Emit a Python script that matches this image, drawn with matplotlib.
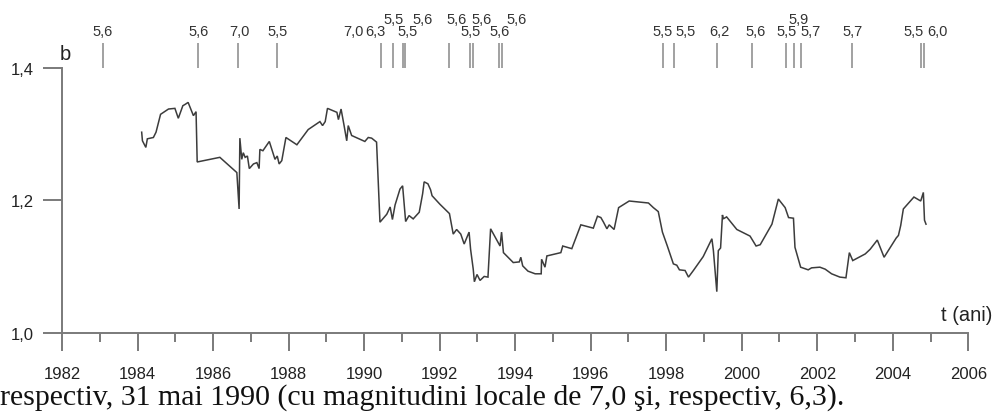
import matplotlib
matplotlib.use("Agg")
import matplotlib.pyplot as plt
from matplotlib.ticker import MultipleLocator, FixedLocator

# ---- data: b-value time series ----
t_years = [1984.11, 1984.13, 1984.22, 1984.26, 1984.42, 1984.49, 1984.61, 1984.82, 1984.99,
           1985.08, 1985.20, 1985.26, 1985.34, 1985.48, 1985.55, 1985.58, 1986.18, 1986.63,
           1986.69, 1986.71, 1986.76, 1986.80, 1986.85, 1986.91, 1986.96, 1987.07, 1987.16,
           1987.22, 1987.24, 1987.32, 1987.49, 1987.64, 1987.70, 1987.75, 1987.82, 1987.93,
           1988.22, 1988.52, 1988.83, 1988.90, 1988.97, 1989.03, 1989.28, 1989.32, 1989.39,
           1989.47, 1989.54, 1989.58, 1989.67, 1990.02, 1990.11, 1990.20, 1990.33, 1990.42,
           1990.60, 1990.69, 1990.75, 1990.82, 1990.95, 1991.02, 1991.10, 1991.19, 1991.30,
           1991.46, 1991.55, 1991.59, 1991.69, 1991.76, 1991.80, 1992.01, 1992.26, 1992.36,
           1992.45, 1992.56, 1992.65, 1992.78, 1992.82, 1992.89, 1992.92, 1992.99, 1993.07,
           1993.18, 1993.28, 1993.35, 1993.60, 1993.64, 1993.69, 1993.95, 1994.11, 1994.15,
           1994.20, 1994.34, 1994.53, 1994.69, 1994.70, 1994.79, 1994.84, 1995.21, 1995.26,
           1995.50, 1995.74, 1996.07, 1996.18, 1996.27, 1996.34, 1996.43, 1996.49, 1996.62,
           1996.74, 1997.02, 1997.53, 1997.66, 1997.79, 1997.90, 1998.03, 1998.19, 1998.28,
           1998.35, 1998.50, 1998.59, 1998.72, 1998.98, 1999.21, 1999.25, 1999.34, 1999.38,
           1999.44, 1999.49, 1999.51, 1999.60, 1999.87, 2000.22, 2000.38, 2000.49, 2000.80,
           2000.97, 2001.15, 2001.24, 2001.37, 2001.41, 2001.56, 2001.76, 2001.85, 2002.07,
           2002.21, 2002.38, 2002.60, 2002.76, 2002.85, 2002.94, 2003.27, 2003.40, 2003.59,
           2003.77, 2004.09, 2004.15, 2004.21, 2004.28, 2004.56, 2004.74, 2004.81, 2004.84,
           2004.88]
b_values = [1.303, 1.290, 1.280, 1.293, 1.295, 1.303, 1.330, 1.338, 1.339,
            1.324, 1.343, 1.345, 1.348, 1.328, 1.334, 1.258, 1.265, 1.242,
            1.187, 1.294, 1.262, 1.272, 1.265, 1.267, 1.248, 1.255, 1.257,
            1.248, 1.277, 1.275, 1.289, 1.262, 1.267, 1.255, 1.260, 1.295,
            1.284, 1.307, 1.319, 1.313, 1.319, 1.339, 1.333, 1.322, 1.338,
            1.313, 1.290, 1.313, 1.298, 1.289, 1.295, 1.294, 1.288, 1.167,
            1.179, 1.190, 1.171, 1.193, 1.217, 1.222, 1.168, 1.177, 1.172,
            1.182, 1.210, 1.228, 1.225, 1.216, 1.207, 1.194, 1.180, 1.149,
            1.156, 1.149, 1.134, 1.152, 1.126, 1.096, 1.077, 1.088, 1.079,
            1.085, 1.084, 1.157, 1.131, 1.152, 1.121, 1.106, 1.107, 1.114,
            1.101, 1.093, 1.089, 1.089, 1.111, 1.099, 1.116, 1.121, 1.131,
            1.127, 1.163, 1.158, 1.176, 1.174, 1.167, 1.157, 1.163, 1.156,
            1.189, 1.199, 1.196, 1.189, 1.183, 1.152, 1.131, 1.104, 1.102,
            1.095, 1.094, 1.084, 1.094, 1.115, 1.142, 1.124, 1.062, 1.124,
            1.128, 1.178, 1.172, 1.175, 1.156, 1.146, 1.131, 1.133, 1.164,
            1.202, 1.189, 1.174, 1.173, 1.129, 1.099, 1.095, 1.098, 1.099,
            1.096, 1.089, 1.084, 1.083, 1.121, 1.109, 1.119, 1.126, 1.140,
            1.114, 1.143, 1.147, 1.162, 1.187, 1.205, 1.199, 1.212, 1.170,
            1.164]

# ---- earthquake occurrence marks ----
quake_times = [1983.08, 1985.60, 1986.67, 1987.69, 1990.44, 1990.77, 1991.04, 1991.08,
               1992.26, 1992.81, 1992.89, 1993.58, 1993.65, 1997.91, 1998.21, 1999.34,
               2000.27, 2001.17, 2001.39, 2001.57, 2002.92, 2004.75, 2004.82]
mag_labels = ["5,6", "5,6", "7,0", "5,5", "7,0", "6,3", "5,5", "5,5", "5,6", "5,6", "5,5",
              "5,6", "5,6", "5,6", "5,5", "5,5", "6,2", "5,6", "5,5", "5,9", "5,7", "5,7",
              "5,5", "6,0"]
mag_label_t = [1983.08, 1985.63, 1986.69, 1987.71, 1989.71, 1990.29, 1990.77, 1991.16,
               1991.56, 1992.45, 1992.81, 1993.11, 1993.60, 1994.04, 1997.91, 1998.50,
               1999.40, 2000.37, 2001.19, 2001.50, 2001.83, 2002.94, 2004.56, 2005.19]
mag_label_row = [0, 0, 0, 0, 0, 0, 1, 0, 1, 1, 0, 1, 0, 1, 0, 0, 0, 0, 0, 1, 0, 0, 0, 0]

x_ticks = list(range(1982, 2007, 2))
y_ticks = [1.0, 1.2, 1.4]
y_ticklabels = ["1,0", "1,2", "1,4"]
caption = "respectiv, 31 mai 1990 (cu magnitudini locale de 7,0 şi, respectiv, 6,3)."

plt.rcParams['font.family'] = ['Liberation Sans', 'DejaVu Sans']

W, H = 998, 414
fig = plt.figure(figsize=(W / 100, H / 100), dpi=100)
ax_left, ax_right = 62, 968.3
ax_bottom, ax_top = 333.7, 69
ax = fig.add_axes([ax_left / W, 1 - ax_bottom / H, (ax_right - ax_left) / W,
                   (ax_bottom - ax_top) / H])

axis_col = "#7a7a7a"
ax.plot(t_years, b_values, color="#3c3c3c", lw=1.1, solid_joinstyle="miter")

ax.set_xlim(1982, 2006)
ax.set_ylim(1.0, 1.4)
for s in ["top", "right"]:
    ax.spines[s].set_visible(False)
for s in ["left", "bottom"]:
    ax.spines[s].set_color(axis_col)
    ax.spines[s].set_linewidth(1.4)

ax.xaxis.set_major_locator(FixedLocator(x_ticks))
ax.xaxis.set_minor_locator(MultipleLocator(1))
ax.set_xticklabels([str(v) for v in x_ticks])
ax.set_yticks(y_ticks)
ax.set_yticklabels(y_ticklabels)
ax.tick_params(axis="x", which="major", direction="out", length=13, width=1.4,
               color=axis_col, pad=11, labelsize=12, labelcolor="#222222")
ax.tick_params(axis="x", which="minor", direction="out", length=6.5, width=1.4,
               color=axis_col)
ax.tick_params(axis="y", which="major", direction="out", length=13.5, width=1.4,
               color=axis_col, pad=7, labelsize=12, labelcolor="#222222")

# earthquake marks above the plot
trans = ax.get_xaxis_transform()
ax.vlines(quake_times, 1.0 + 0 / 264.7, 1.0 + 25 / 264.7, transform=trans,
          color="#888888", lw=1.1, clip_on=False)
for lab, tx, row in zip(mag_labels, mag_label_t, mag_label_row):
    yy = 1.0 + (36.7 if row == 0 else 49.0) / 264.7
    ax.text(tx, yy, lab, transform=trans, ha="center", va="center", fontsize=10.5,
            color="#333333", clip_on=False)

# axis titles
fig.text(60 / W, 1 - 55 / H, "b", ha="left", va="center", fontsize=14.5, color="#222222")
fig.text(941 / W, 1 - 316 / H, "t (ani)", ha="left", va="center", fontsize=14.5,
         color="#222222")

# caption line below the figure
fig.text(0 / W, 1 - 398 / H, caption, ha="left", va="center", fontsize=21.5,
         family=["Liberation Serif", "DejaVu Serif"], color="#111111")

fig.savefig("out.png", dpi=100)
